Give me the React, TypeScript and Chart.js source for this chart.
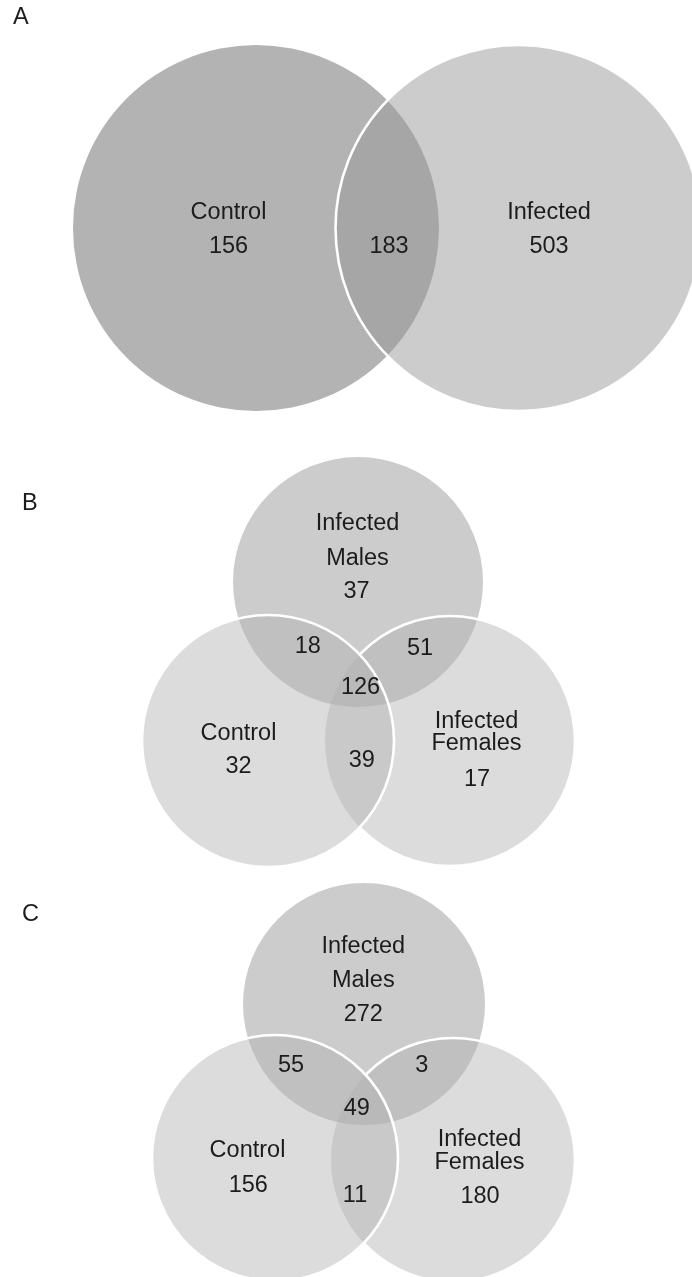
import React, { useEffect, useRef } from 'react';
import { Chart, registerables } from 'chart.js';

Chart.register(...registerables);

// ---------------- DATA ----------------
// Panel A: two-set Venn
const aLetter = 'A';
const aSetNames = [['Control'], ['Infected']];
const aRegions = ['Control only', 'Control ∩ Infected', 'Infected only'];
const aCounts = [156, 183, 503];

// Panel B: three-set Venn
const bLetter = 'B';
const bSetNames = [['Infected', 'Males'], ['Control'], ['Infected', 'Females']];
const bRegions = ['M', 'C', 'F', 'M∩C', 'M∩F', 'C∩F', 'M∩C∩F'];
const bCounts = [37, 32, 17, 18, 51, 39, 126];

// Panel C: three-set Venn
const cLetter = 'C';
const cSetNames = [['Infected', 'Males'], ['Control'], ['Infected', 'Females']];
const cRegions = ['M', 'C', 'F', 'M∩C', 'M∩F', 'C∩F', 'M∩C∩F'];
const cCounts = [272, 156, 180, 55, 3, 11, 49];

// ---------------- LAYOUT (panel-local units) ----------------
type Circle = { x: number; y: number; r: number; fill: string; stroke: 'none' | 'full' | number };
type Pt = { x: number; y: number; gap?: number };

const FONT = '"Liberation Sans", Arial, Helvetica, sans-serif';
const TEXT_COLOR = '#1c1c1c';

const panels = [
  {
    top: 0,
    height: 440,
    letter: aLetter,
    letterPos: { x: 13, y: 16 },
    circles: [
      { x: 256, y: 228, r: 183, fill: '#b3b3b3', stroke: 'none' },
      { x: 518.5, y: 228, r: 183, fill: 'rgba(153,153,153,0.5)', stroke: 'full' },
    ] as Circle[],
    setNames: aSetNames,
    namePos: [
      { x: 228.5, y: 210.5, gap: 34 },
      { x: 549, y: 210.5, gap: 34 },
    ] as Pt[],
    counts: aCounts,
    regions: aRegions,
    countPos: [
      { x: 228.5, y: 244.5 },
      { x: 389, y: 245 },
      { x: 549, y: 244.5 },
    ] as Pt[],
  },
  {
    top: 440,
    height: 430,
    letter: bLetter,
    letterPos: { x: 22, y: 62 },
    circles: [
      { x: 358, y: 142, r: 125, fill: '#cccccc', stroke: 'none' },
      { x: 450, y: 301, r: 125, fill: 'rgba(177,177,177,0.45)', stroke: 2 },
      { x: 268, y: 301, r: 126, fill: 'rgba(177,177,177,0.45)', stroke: 'full' },
    ] as Circle[],
    setNames: bSetNames,
    namePos: [
      { x: 357.5, y: 81.5, gap: 35 },
      { x: 238.5, y: 291.7, gap: 34 },
      { x: 476.5, y: 279.7, gap: 22.3 },
    ] as Pt[],
    counts: bCounts,
    regions: bRegions,
    countPos: [
      { x: 356.5, y: 150 },
      { x: 238.5, y: 325 },
      { x: 477, y: 338 },
      { x: 307.7, y: 204.7 },
      { x: 420, y: 206.7 },
      { x: 361.7, y: 319 },
      { x: 360.5, y: 245.8 },
    ] as Pt[],
  },
  {
    top: 870,
    height: 407,
    letter: cLetter,
    letterPos: { x: 22, y: 43 },
    circles: [
      { x: 364, y: 134, r: 121, fill: '#cccccc', stroke: 'none' },
      { x: 453, y: 290, r: 122, fill: 'rgba(177,177,177,0.45)', stroke: 2 },
      { x: 275, y: 288, r: 123, fill: 'rgba(177,177,177,0.45)', stroke: 'full' },
    ] as Circle[],
    setNames: cSetNames,
    namePos: [
      { x: 363.3, y: 74.7, gap: 34.3 },
      { x: 247.5, y: 279, gap: 34 },
      { x: 479.5, y: 267.5, gap: 23.2 },
    ] as Pt[],
    counts: cCounts,
    regions: cRegions,
    countPos: [
      { x: 363.3, y: 143 },
      { x: 248.3, y: 313.3 },
      { x: 480, y: 325 },
      { x: 291, y: 193.3 },
      { x: 421.7, y: 193.3 },
      { x: 355, y: 324 },
      { x: 356.7, y: 236.7 },
    ] as Pt[],
  },
];

const PAGE_W = 692;
const FONT_SIZE = 23.5;
const CAP_HALF = 8.4;

const vennPlugin = {
  id: 'venn',
  beforeDatasetDraw(chart: any, args: any) {
    const ds = chart.data.datasets[args.index];
    if (ds.clipOutside) {
      const c = ds.clipOutside;
      const xs = chart.scales.x;
      const ys = chart.scales.y;
      const ctx = chart.ctx;
      const px = xs.getPixelForValue(c.x);
      const py = ys.getPixelForValue(c.y);
      const pr = Math.abs(xs.getPixelForValue(c.x + c.r) - px);
      ctx.save();
      ctx.beginPath();
      ctx.rect(0, 0, chart.width, chart.height);
      ctx.arc(px, py, pr, 0, Math.PI * 2);
      ctx.clip('evenodd');
    }
  },
  afterDatasetDraw(chart: any, args: any) {
    const ds = chart.data.datasets[args.index];
    if (ds.clipOutside) chart.ctx.restore();
  },
  afterDatasetsDraw(chart: any, _a: any, opts: any) {
    const ctx = chart.ctx;
    const xs = chart.scales.x;
    const ys = chart.scales.y;
    ctx.save();
    ctx.fillStyle = TEXT_COLOR;
    ctx.font = `${FONT_SIZE}px ${FONT}`;
    ctx.textBaseline = 'alphabetic';
    ctx.textAlign = 'left';
    ctx.fillText(opts.letter, xs.getPixelForValue(opts.letterPos.x), ys.getPixelForValue(opts.letterPos.y) + CAP_HALF);
    ctx.textAlign = 'center';
    (opts.setNames as string[][]).forEach((lines, i) => {
      const p = opts.namePos[i];
      lines.forEach((ln, j) => {
        ctx.fillText(ln, xs.getPixelForValue(p.x), ys.getPixelForValue(p.y + j * (p.gap || 34)) + CAP_HALF);
      });
    });
    (opts.counts as number[]).forEach((v, i) => {
      const p = opts.countPos[i];
      ctx.fillText(String(v), xs.getPixelForValue(p.x), ys.getPixelForValue(p.y) + CAP_HALF);
    });
    ctx.restore();
  },
};

function radiusFor(r: number) {
  return (ctx: any) => {
    const xs = ctx.chart.scales.x;
    return Math.abs(xs.getPixelForValue(r) - xs.getPixelForValue(0));
  };
}

function VennPanel({ panel }: { panel: (typeof panels)[number] }) {
  const ref = useRef<HTMLCanvasElement | null>(null);
  useEffect(() => {
    if (!ref.current) return;
    const fills = panel.circles.map((c) => ({
      label: 'fill',
      data: [{ x: c.x, y: c.y }],
      pointRadius: radiusFor(c.r),
      pointHoverRadius: radiusFor(c.r),
      pointBackgroundColor: c.fill,
      pointBorderWidth: 0,
      pointBorderColor: 'rgba(0,0,0,0)',
      showLine: false,
    }));
    const strokes = panel.circles
      .filter((c) => c.stroke !== 'none')
      .map((c) => {
        const clipC = typeof c.stroke === 'number' ? panel.circles[c.stroke] : null;
        return {
          label: 'stroke',
          data: [{ x: c.x, y: c.y }],
          pointRadius: radiusFor(c.r),
          pointHoverRadius: radiusFor(c.r),
          pointBackgroundColor: 'rgba(0,0,0,0)',
          pointBorderColor: '#ffffff',
          pointBorderWidth: 2.6,
          showLine: false,
          clipOutside: clipC ? { x: clipC.x, y: clipC.y, r: clipC.r } : null,
        };
      });
    // Chart.js paints dataset 0 last (on top): list in reverse painting order
    const datasets = [...fills, ...strokes].reverse();
    const chart = new Chart(ref.current, {
      type: 'scatter',
      data: { datasets: datasets as any },
      options: {
        animation: false,
        responsive: false,
        maintainAspectRatio: false,
        events: [],
        layout: { padding: 0 },
        scales: {
          x: { type: 'linear', min: 0, max: PAGE_W, display: false },
          y: { type: 'linear', min: 0, max: panel.height, reverse: true, display: false },
        },
        plugins: {
          legend: { display: false },
          tooltip: { enabled: false },
          venn: {
            letter: panel.letter,
            letterPos: panel.letterPos,
            setNames: panel.setNames,
            namePos: panel.namePos,
            counts: panel.counts,
            countPos: panel.countPos,
          },
        } as any,
      },
      plugins: [vennPlugin as any],
    });
    return () => chart.destroy();
  }, [panel]);
  return (
    <canvas
      ref={ref}
      width={PAGE_W}
      height={panel.height}
      style={{ position: 'absolute', left: 0, top: panel.top, width: PAGE_W, height: panel.height }}
    />
  );
}

export default function App() {
  return (
    <div style={{ position: 'absolute', left: 0, top: 0, width: PAGE_W, height: 1277, background: '#ffffff', overflow: 'hidden' }}>
      {panels.map((p, i) => (
        <VennPanel key={i} panel={p} />
      ))}
    </div>
  );
}
